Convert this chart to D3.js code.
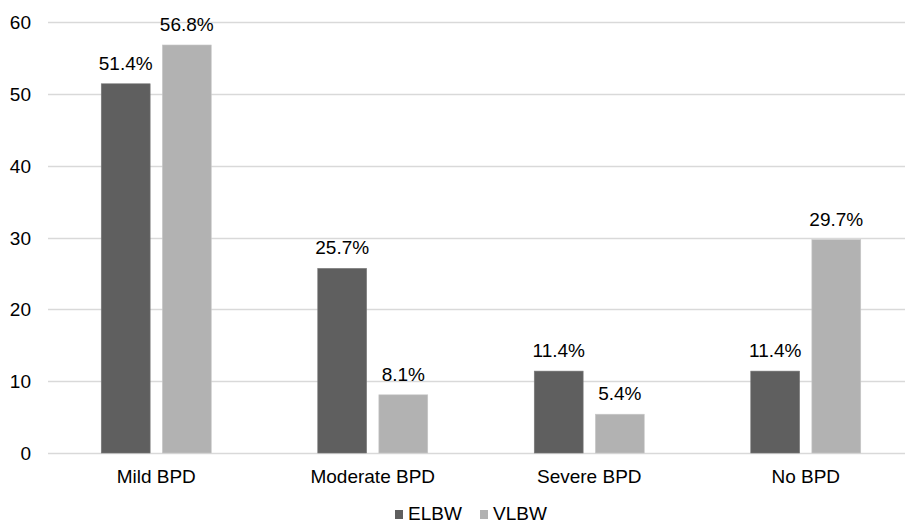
<!DOCTYPE html>
<html><head><meta charset="utf-8">
<script src="https://cdn.jsdelivr.net/npm/d3@7"></script>
<style>body{margin:0;background:#fff}svg{display:block;font-family:"Liberation Sans",Arial,sans-serif}</style>
</head><body><svg id="c" width="905" height="524"></svg>
<script>
const categories = ["Mild BPD","Moderate BPD","Severe BPD","No BPD"];
const seriesNames = ["ELBW","VLBW"];
const elbw = [51.4,25.7,11.4,11.4];
const vlbw = [56.8,8.1,5.4,29.7];
const yTicks = [0,10,20,30,40,50,60];
const colors = ["#5f5f5f","#b2b2b2"];

(function(){
const FS = 19;
const svg = d3.select("#c");
const pLeft = 48, pRight = 914, pTop = 22, pBottom = 453;
const y = d3.scaleLinear().domain([0,60]).range([pBottom, pTop]);
const x0 = d3.scaleBand().domain(categories).range([pLeft, pRight]).paddingInner(0.492).paddingOuter(0.246);
const x1 = d3.scaleBand().domain(seriesNames).range([0, x0.bandwidth()]).paddingInner(0.2);

// grid
svg.append("g").selectAll("line").data(yTicks).join("line")
  .attr("x1", pLeft).attr("x2", 905).attr("y1", d=>Math.round(y(d))+0.5).attr("y2", d=>Math.round(y(d))+0.5)
  .attr("stroke", "#d9d9d9").attr("stroke-width", 1.3);

// y axis labels
const yAxis = d3.axisLeft(y).tickValues(yTicks).tickSize(0).tickPadding(0);
const ya = svg.append("g").attr("transform", `translate(31,0)`).call(yAxis);
ya.select(".domain").remove();
ya.selectAll("text").attr("font-size", FS).attr("fill", "#000").attr("font-family", "Liberation Sans, Arial, sans-serif").attr("dy", "0.35em");

// x axis labels
const xAxis = d3.axisBottom(x0).tickSize(0).tickPadding(0);
const xa = svg.append("g").attr("transform", `translate(0,${pBottom})`).call(xAxis);
xa.select(".domain").remove();
xa.selectAll("text").attr("font-size", FS).attr("fill", "#000").attr("font-family", "Liberation Sans, Arial, sans-serif").attr("dy", null).attr("y", 30);

const data = [elbw, vlbw];
const groups = svg.append("g").selectAll("g").data(categories).join("g")
  .attr("transform", d => `translate(${x0(d)},0)`);
seriesNames.forEach((s, si) => {
  groups.append("rect")
    .attr("x", x1(s)).attr("width", x1.bandwidth())
    .attr("y", (d,i) => y(data[si][i])).attr("height", (d,i) => y(0) - y(data[si][i]))
    .attr("fill", colors[si]).attr("stroke", si===0 ? "#7a7a7a" : "#c8c8c8").attr("stroke-width", 0.6);
  groups.append("text")
    .attr("x", x1(s) + x1.bandwidth()/2)
    .attr("y", (d,i) => y(data[si][i]) - 14)
    .attr("text-anchor", "middle").attr("font-size", FS).attr("fill", "#000")
    .text((d,i) => data[si][i].toFixed(1) + "%");
});

// legend
const legX = [395, 480];
seriesNames.forEach((s, i) => {
  svg.append("rect").attr("x", legX[i]).attr("y", 510).attr("width", 8).attr("height", 9).attr("fill", colors[i]);
  svg.append("text").attr("x", legX[i] + 13).attr("y", 519.5).attr("font-size", FS).attr("fill", "#000").text(s);
});
})();
</script></body></html>
